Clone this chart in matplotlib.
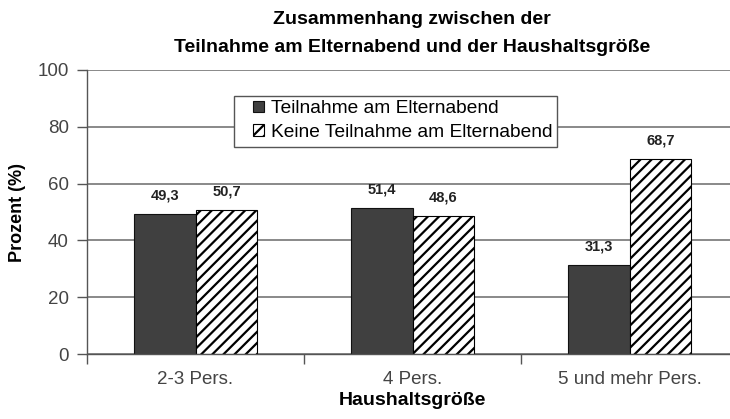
import matplotlib
matplotlib.use("Agg")
import matplotlib.pyplot as plt
from matplotlib.patches import Rectangle
import numpy as np

categories = ["2-3 Pers.", "4 Pers.", "5 und mehr Pers."]
teilnahme = [49.3, 51.4, 31.3]
keine = [50.7, 48.6, 68.7]
labels_series = ["Teilnahme am Elternabend", "Keine Teilnahme am Elternabend"]

plt.rcParams['font.family'] = ['Liberation Sans', 'DejaVu Sans']
plt.rcParams['hatch.linewidth'] = 1.6

W, H = 730, 419
fig = plt.figure(figsize=(W/100, H/100), dpi=100)
ax = fig.add_axes([87/W, 1-354/H, 651/W, (354-70)/H])

x = np.arange(len(categories))
w = 0.285
ax.set_axisbelow(True)
b1 = ax.bar(x - w/2, teilnahme, w, color='#404040', edgecolor='#111111', linewidth=0.8,
            label=labels_series[0])
b2 = ax.bar(x + w/2, keine, w, color='white', edgecolor='black', linewidth=0.8,
            hatch='///', label=labels_series[1])

for rect, v in list(zip(b1, teilnahme)) + list(zip(b2, keine)):
    ax.text(rect.get_x() + rect.get_width()/2, v + 4, f"{v:.1f}".replace('.', ','),
            ha='center', va='bottom', fontsize=10.5, fontweight='bold', color='#222222')

ax.set_xlim(-0.5, 2.5)
ax.set_ylim(0, 100)
ax.set_yticks([0, 20, 40, 60, 80, 100])
ax.yaxis.grid(True, color='#808080', linewidth=1.3)
ax.set_xticks(x)
ax.set_xticklabels(categories)
ax.set_xticks([-0.5, 0.5, 1.5, 2.5], minor=True)
ax.tick_params(axis='x', which='major', length=0, pad=12, labelsize=13.5, labelcolor='#444444')
ax.tick_params(axis='x', which='minor', length=7, width=1, color='#555555')
ax.tick_params(axis='y', length=7, width=1, color='#555555', labelsize=13.5,
               labelcolor='#444444', pad=6)

for s in ['top', 'right']:
    ax.spines[s].set_visible(False)
for s in ['left', 'bottom']:
    ax.spines[s].set_color('#555555')
    ax.spines[s].set_linewidth(1)

fig.text(18/W, 1-212/H, "Prozent (%)", rotation=90, ha='center', va='center',
         fontsize=13, fontweight='bold')
ax.set_xlabel("Haushaltsgröße", fontsize=14, fontweight='bold', labelpad=3)

fig.text(412/W, 1-20/H, "Zusammenhang zwischen der", ha='center', va='center',
         fontsize=14, fontweight='bold')
fig.text(412/W, 1-47/H, "Teilnahme am Elternabend und der Haushaltsgröße",
         ha='center', va='center', fontsize=14, fontweight='bold')

# legend frame (white box) and entries
fig.patches.append(Rectangle((234/W, 1-147/H), (557-234)/W, (147-96)/H,
                             transform=fig.transFigure, facecolor='white',
                             edgecolor='#555555', linewidth=1, zorder=5))
leg = fig.legend(handles=[b1, b2], labels=labels_series, loc='upper left',
                 bbox_to_anchor=(249/W, 1-96/H), frameon=False, fontsize=13.75,
                 handlelength=0.55, handleheight=0.55, handletextpad=0.4,
                 borderpad=0.22, labelspacing=0.33, borderaxespad=0)
leg.set_zorder(6)

fig.savefig("out.png", dpi=100)
